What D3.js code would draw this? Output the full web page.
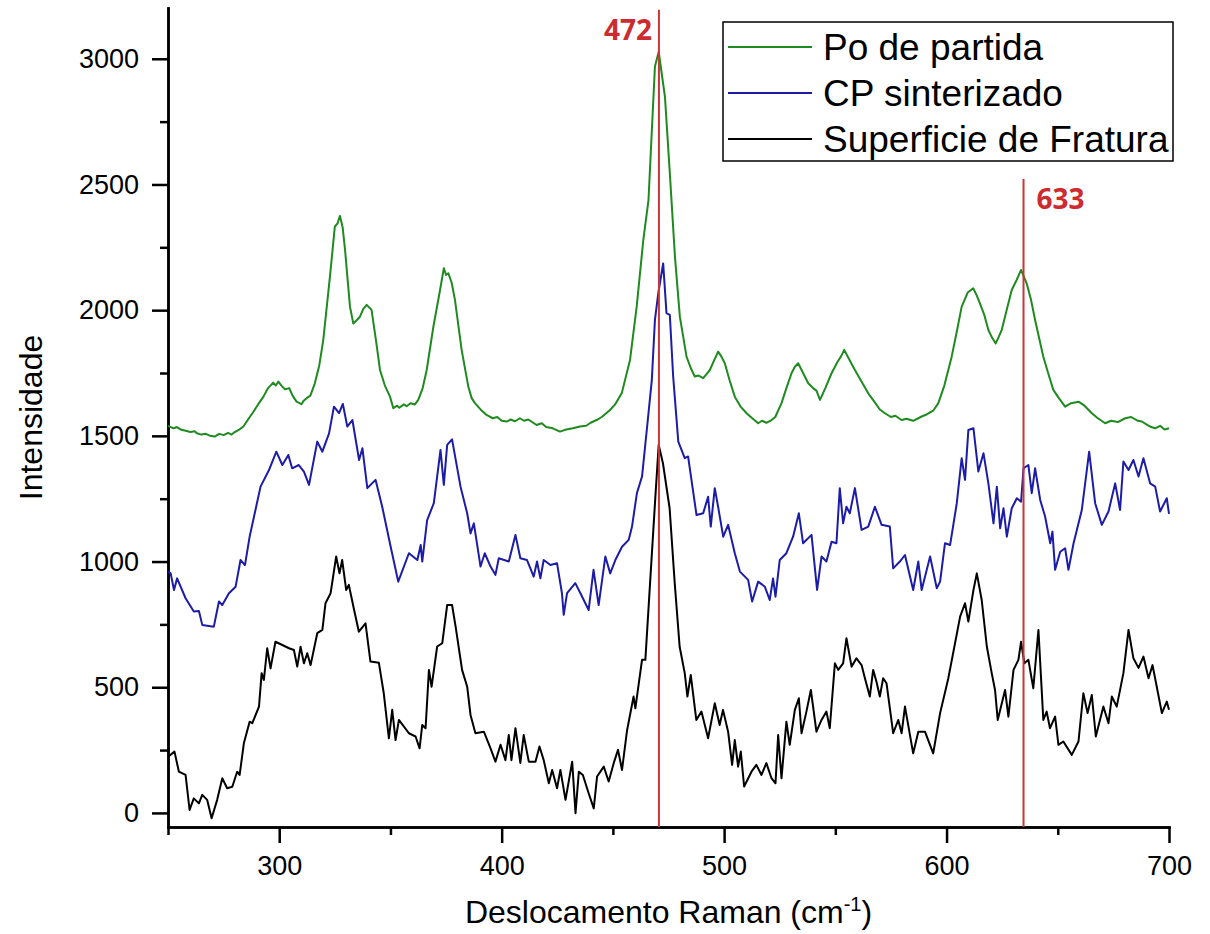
<!DOCTYPE html>
<html>
<head>
<meta charset="utf-8">
<script src="https://cdn.jsdelivr.net/npm/d3@7"></script>
<style>
  body { margin: 0; background: #fff; }
  .axis path, .axis line { stroke: #000; stroke-width: 2.5px; }
</style>
</head>
<body>
<div id="chart"></div>
<script>
// Raman shift (cm-1), intensity
var poDePartida = [
  [250,1540],[252.5,1530],[254,1535],[256,1524],[258,1520],[260,1515],[262,1518],[263,1510],
  [265,1505],[267,1508],[269,1500],[271,1497],[273,1508],[275,1503],[277,1512],[278.6,1505],
  [280,1515],[282,1525],[283.9,1537],[286,1565],[288.4,1596],[290.5,1625],[292.9,1656],[295,1690],
  [297.3,1712],[298.5,1700],[299.6,1716],[301,1700],[302.6,1685],[304.5,1690],[306,1660],[307.8,1636],
  [310,1626],[311,1640],[312.3,1650],[314,1660],[316,1709],[318,1780],[319.8,1881],[322.8,2133],
  [325,2332],[326.2,2345],[327.3,2375],[328.5,2330],[329.6,2239],[331.8,2014],[333.3,1947],[334.8,1960],
  [336.3,1974],[337.8,2005],[339.3,2021],[341.5,2001],[343.5,1880],[345.3,1762],[347.5,1700],[349.8,1656],
  [351.3,1610],[353,1620],[354,1612],[356,1625],[357.3,1618],[359,1630],[361,1625],[362.5,1643],
  [364.5,1690],[366.3,1762],[369.3,1934],[372.3,2080],[374,2167],[375,2140],[376,2147],[377.5,2110],
  [379,2041],[382,1842],[385,1696],[386.5,1650],[388,1630],[390.5,1605],[393.2,1583],[396,1570],
  [398,1575],[400,1560],[402.2,1557],[404,1565],[406,1558],[408.2,1570],[410,1560],[412,1565],
  [415.7,1543],[418,1550],[420,1535],[423,1530],[426.2,1517],[429,1525],[432,1530],[435.2,1537],
  [438,1540],[440,1552],[442.7,1563],[445,1575],[447,1590],[448.7,1603],[451,1625],[454,1670],
  [457.7,1802],[460.7,2014],[463.7,2281],[466,2438],[468.9,2969],[470.6,3028],[473.4,2849],[475.6,2544],
  [477.9,2213],[480.1,1974],[483.1,1815],[485,1770],[486.8,1736],[488.5,1740],[490.6,1730],[492,1745],
  [493.6,1762],[495.5,1800],[497.3,1835],[498.8,1815],[500.3,1789],[502.5,1720],[504.8,1656],[507.5,1615],
  [510.1,1590],[512,1575],[515.3,1550],[517,1560],[519,1552],[521.3,1563],[523,1575],[525.8,1630],
  [528,1690],[530.3,1749],[531.8,1775],[533.3,1789],[535.5,1750],[537.8,1709],[540,1690],[541.5,1680],
  [543.1,1643],[545.5,1690],[548.3,1749],[551,1795],[552.5,1815],[554,1842],[556.5,1800],[558.8,1762],
  [561.5,1720],[564.8,1669],[568,1630],[570,1605],[572.3,1590],[575,1575],[577,1580],[579.8,1563],
  [582,1568],[585,1560],[588.8,1577],[591,1585],[594,1600],[596.3,1630],[599,1700],[602.3,1815],
  [604.5,1910],[606.8,2014],[609.5,2070],[612,2087],[613.5,2060],[615,2027],[617,1980],[618.8,1921],
  [620.5,1890],[622.1,1868],[623.5,1895],[624.8,1921],[627,2000],[629.3,2080],[631.5,2120],[633.5,2160],
  [636,2107],[638,2040],[639.8,1961],[643.5,1815],[646,1740],[648,1683],[650.5,1650],[653.3,1616],
  [656,1630],[659.3,1636],[662,1620],[665.3,1590],[668,1570],[671.3,1550],[674,1560],[677,1555],
  [680.3,1570],[683,1575],[686,1560],[687.8,1557],[690,1545],[692,1535],[693.8,1530],[696,1540],
  [698,1525],[700,1530]
];

var cpSinterizado = [
  [250,960],[251.2,953],[252.7,887],[254.1,933],[257.9,854],[261.6,801],[263.9,803],[265.4,748],
  [270.6,741],[272.9,841],[274.4,827],[277.4,874],[280.4,900],[282.6,1006],[284.6,986],[286.7,1099],
  [291.6,1298],[295.4,1364],[298.7,1437],[301.4,1384],[304.1,1424],[305.8,1371],[308.8,1384],[311.1,1358],
  [313.4,1305],[317.1,1477],[319.4,1437],[322.4,1510],[324.6,1616],[326.9,1590],[328.6,1627],[330.6,1537],
  [332.9,1563],[335.9,1404],[337.4,1451],[339.6,1292],[343.3,1325],[346.3,1218],[350.1,1059],[353.5,920],
  [358.3,1033],[362.1,1006],[363.6,1066],[364.3,1000],[366.5,1165],[369.5,1232],[372.5,1444],[374,1305],
  [375.5,1464],[377.7,1486],[381.5,1298],[384.5,1192],[386,1112],[387.5,1152],[390.5,980],[392.4,1033],
  [395,980],[397.2,947],[398.7,1013],[403.2,1000],[406.2,1106],[408.4,1013],[411.4,1006],[414.4,940],
  [415.9,1000],[417.4,933],[418.9,1006],[421.9,986],[424.9,993],[427.1,874],[427.9,788],[429.4,874],
  [433.1,914],[435.4,874],[439.1,807],[441.3,967],[443.6,827],[446.6,1020],[448.8,953],[451.1,1006],
  [454.1,1059],[457.1,1086],[458.6,1139],[460.8,1272],[463.1,1338],[466,1590],[467.5,1722],[468.9,1961],
  [470.4,2067],[472.6,2186],[474.1,1988],[475.6,1981],[477.1,1736],[479.4,1477],[482.3,1411],[483.8,1418],
  [487.6,1185],[490.6,1192],[492.8,1258],[494,1139],[495.8,1292],[497.3,1218],[499.6,1099],[501.8,1146],
  [504.8,1033],[507.1,960],[510.8,927],[512.6,841],[515.3,920],[518.3,900],[520.5,847],[522,933],
  [523.1,860],[525,1006],[528,1033],[531,1099],[533.6,1192],[535.5,1073],[539.3,1106],[541.8,887],
  [543.8,1020],[546,1000],[548.3,1079],[550.5,1073],[552,1292],[553.5,1152],[555,1218],[556.5,1192],
  [558.8,1292],[561.8,1126],[564.8,1139],[567.8,1218],[570.8,1146],[574.5,1139],[576,973],[579,1000],
  [581.3,1026],[585,887],[587.3,1000],[588.8,887],[592.6,1020],[595.6,894],[597.1,920],[599.3,1073],
  [601.6,1066],[604.6,1232],[606.8,1411],[608.3,1325],[609.8,1523],[612.1,1530],[614.3,1358],[616.6,1431],
  [618.8,1311],[621.1,1152],[622.6,1298],[624.1,1132],[625.6,1212],[627.1,1099],[629.3,1212],[631.6,1252],
  [633.5,1238],[634.6,1371],[636.8,1384],[638.3,1272],[639.8,1371],[642.1,1245],[644.3,1179],[646.6,1073],
  [647.6,1119],[648.8,967],[651.1,1039],[653.3,1053],[654.8,967],[657.1,1073],[660.8,1205],[664.1,1437],
  [666.8,1232],[669.8,1146],[672.8,1199],[675.8,1311],[678,1205],[679.5,1398],[681.8,1364],[684,1404],
  [686.3,1338],[688.5,1411],[691.5,1311],[693.8,1298],[696,1199],[699,1252],[700,1190]
];

var superficieFratura = [
  [250,225],[251.2,231],[252.9,244],[254.9,164],[257.9,151],[259.7,12],[261.6,58],[263.9,38],
  [265.4,72],[267.6,52],[269.6,-21],[272.1,52],[274.4,138],[276.6,98],[278.9,104],[281.1,164],
  [282.2,151],[284.1,277],[286.7,363],[287.9,357],[290.9,423],[292.1,556],[293.1,529],[294.6,655],
  [296.1,575],[298.3,681],[301.4,668],[304.4,655],[306.6,648],[308.1,582],[309.6,661],[311.1,595],
  [312.6,635],[314.1,588],[317.1,715],[319.4,728],[320.8,834],[323.1,874],[325.6,1020],[327.1,953],
  [328.3,1006],[330.1,887],[331.3,907],[333.5,814],[335.8,721],[338.8,754],[341,602],[344.8,597],
  [347,476],[349.3,297],[350.8,410],[352.3,290],[353.8,370],[358.3,317],[361.3,304],[363.1,257],
  [364.3,350],[365.8,337],[367.3,569],[368.5,502],[371,662],[373.3,675],[375.5,827],[377.7,827],
  [379.3,741],[382.2,569],[384.5,502],[386,390],[388.2,317],[392,323],[395,257],[397.2,204],
  [399.5,271],[401.7,210],[403.2,310],[404.4,210],[406.2,337],[408.4,199],[409.9,310],[412.2,204],
  [415.2,204],[417,264],[418.9,210],[421.2,118],[422.7,171],[424.9,98],[426.4,171],[428.7,52],
  [431.7,204],[433.2,-1],[434.7,164],[436.5,151],[439.1,78],[441.4,18],[442.9,145],[445.9,184],
  [448.1,125],[450.4,199],[452.3,251],[454.1,171],[456.4,330],[459.3,463],[460.1,416],[463.1,609],
  [464.6,609],[466.8,927],[469.1,1258],[470.6,1464],[472.5,1391],[475.5,1212],[477.8,914],[480,662],
  [482.3,556],[483.5,463],[485,549],[487.5,370],[489.8,403],[492.8,297],[495.8,436],[498,350],
  [499.5,410],[501.8,323],[503.6,191],[504.8,290],[506.3,184],[507.5,244],[509,105],[512.3,164],
  [514.5,191],[516.8,151],[519,198],[521.3,138],[523.1,118],[524.3,310],[525.8,138],[528,363],
  [529.5,271],[531.8,410],[533.6,456],[534.8,317],[537,403],[539,489],[541.5,323],[543.8,370],
  [546,403],[547.5,337],[549.8,595],[551.3,569],[553.5,595],[555,695],[557.3,582],[559.5,615],
  [561.8,588],[563.3,536],[565.5,463],[567,569],[568.5,522],[570,463],[571.5,536],[573,516],
  [576,317],[578.3,370],[579.8,317],[581.3,423],[585,237],[587.3,323],[590.3,323],[594,237],
  [597.1,397],[600.8,536],[603.1,642],[606.1,781],[608.3,834],[609.8,761],[612.1,887],[613.6,953],
  [615.8,847],[618.1,662],[620.3,556],[621.8,489],[623,370],[626.3,489],[627.8,383],[630.1,569],
  [632.3,609],[633.5,681],[635,595],[636.8,609],[639,496],[641.3,728],[643.5,370],[645,403],
  [646.5,337],[648.8,383],[650.3,271],[652.5,284],[656.3,231],[659.3,284],[661.5,476],[663.4,397],
  [665.3,469],[667.1,304],[670.5,423],[672.8,357],[674.3,463],[676.5,423],[679.5,556],[681.8,728],
  [684,615],[686.3,577],[688.5,622],[690.8,536],[692.6,588],[694.5,502],[696.8,397],[699,443],
  [700,410]
];

var seriesNames = ["Po de partida", "CP sinterizado", "Superficie de Fratura"];
var seriesColors = ["#1f8a1f", "#1c1ca6", "#000000"];

var majorX = [300, 400, 500, 600, 700];
var minorX = [250, 350, 450, 550, 650];
var majorY = [0, 500, 1000, 1500, 2000, 2500, 3000];
var minorY = [250, 750, 1250, 1750, 2250, 2750];

var markerLabels = ["472", "633"];
var markerShift = [470.7, 634.6];
var markerTop = [3195, 2522];

var FONT = "'Liberation Sans', Arimo, Arial, sans-serif";
var W = 1210, H = 934;
var svg = d3.select("#chart")
  .append("svg")
  .attr("width", W)
  .attr("height", H)
  .style("font-family", FONT);

svg.append("rect").attr("width", W).attr("height", H).attr("fill", "#fff");

var x = d3.scaleLinear().domain([250, 700]).range([168, 1169]);
var y = d3.scaleLinear().domain([-56, 3202]).range([827, 8]);

// minor ticks first, then the major axis on top
svg.append("g")
  .attr("class", "axis")
  .attr("transform", "translate(0,827)")
  .call(d3.axisBottom(x).tickValues(minorX).tickSizeInner(8).tickSizeOuter(0).tickFormat(""));
svg.append("g")
  .attr("class", "axis")
  .attr("transform", "translate(168,0)")
  .call(d3.axisLeft(y).tickValues(minorY).tickSizeInner(8).tickSizeOuter(0).tickFormat(""));

svg.append("g")
  .attr("class", "axis axis-x")
  .attr("transform", "translate(0,827)")
  .call(d3.axisBottom(x).tickValues(majorX).tickFormat(d3.format("d"))
    .tickSizeInner(16).tickSizeOuter(0).tickPadding(13));
svg.append("g")
  .attr("class", "axis axis-y")
  .attr("transform", "translate(168,0)")
  .call(d3.axisLeft(y).tickValues(majorY).tickFormat(d3.format("d"))
    .tickSizeInner(16).tickSizeOuter(0).tickPadding(13));

svg.selectAll(".axis")
  .attr("font-family", FONT)
  .attr("font-size", 27);
svg.selectAll(".axis text").attr("fill", "#000");
svg.selectAll(".axis path.domain").attr("stroke-linecap", "square");

// axis titles
svg.append("text")
  .attr("transform", "translate(42," + (y.range()[0] + y.range()[1]) / 2 + ") rotate(-90)")
  .attr("text-anchor", "middle")
  .attr("font-size", 32)
  .text("Intensidade");

var xt = svg.append("text")
  .attr("x", (x.range()[0] + x.range()[1]) / 2)
  .attr("y", 923)
  .attr("text-anchor", "middle")
  .attr("font-size", 32);
xt.append("tspan").text("Deslocamento Raman (cm");
xt.append("tspan").attr("dy", -12).attr("font-size", 20).text("-1");
xt.append("tspan").attr("dy", 12).text(")");

// spectra
var line = d3.line()
  .x(function(d) {return x(d[0]);})
  .y(function(d) {return y(d[1]);});

var allSeries = [poDePartida, cpSinterizado, superficieFratura];
svg.selectAll(".spectrum").data(allSeries.slice().reverse())
  .enter().append("path")
  .attr("class", "spectrum")
  .attr("fill", "none")
  .attr("stroke", function(d, i) {return seriesColors[2 - i];})
  .attr("stroke-width", 2)
  .attr("stroke-linejoin", "round")
  .attr("d", line);

// marker lines
svg.selectAll(".mline").data(markerShift)
  .enter().append("line")
  .attr("class", "mline")
  .attr("x1", function(d) {return x(d);})
  .attr("x2", function(d) {return x(d);})
  .attr("y1", function(d, i) {return y(markerTop[i]);})
  .attr("y2", y.range()[0])
  .attr("stroke", "#c9363a")
  .attr("stroke-width", 2);

svg.selectAll(".mlabel").data(markerShift)
  .enter().append("text")
  .attr("class", "mlabel")
  .attr("x", function(d, i) {return i == 0 ? x(d) - 7 : x(d) + 13;})
  .attr("y", function(d, i) {return y(markerTop[i]) + 30;})
  .attr("text-anchor", function(d, i) {return i == 0 ? "end" : "start";})
  .attr("font-family", "'Open Sans', sans-serif")
  .attr("font-weight", 700)
  .attr("font-size", 28)
  .attr("fill", "#cc2b2f")
  .text(function(d, i) {return markerLabels[i];});

// legend
var legend = svg.append("g").attr("transform", "translate(723,22)");
legend.append("rect")
  .attr("width", 450)
  .attr("height", 139)
  .attr("fill", "#fff")
  .attr("stroke", "#000")
  .attr("stroke-width", 1.5);
seriesNames.forEach(function(name, i) {
  var row = legend.append("g").attr("transform", "translate(0," + (25 + i * 46) + ")");
  row.append("line")
    .attr("x1", 5).attr("x2", 89)
    .attr("stroke", seriesColors[i])
    .attr("stroke-width", 2);
  row.append("text")
    .attr("x", 100)
    .attr("y", 13)
    .attr("font-size", 37)
    .text(name);
});
</script>
</body>
</html>
